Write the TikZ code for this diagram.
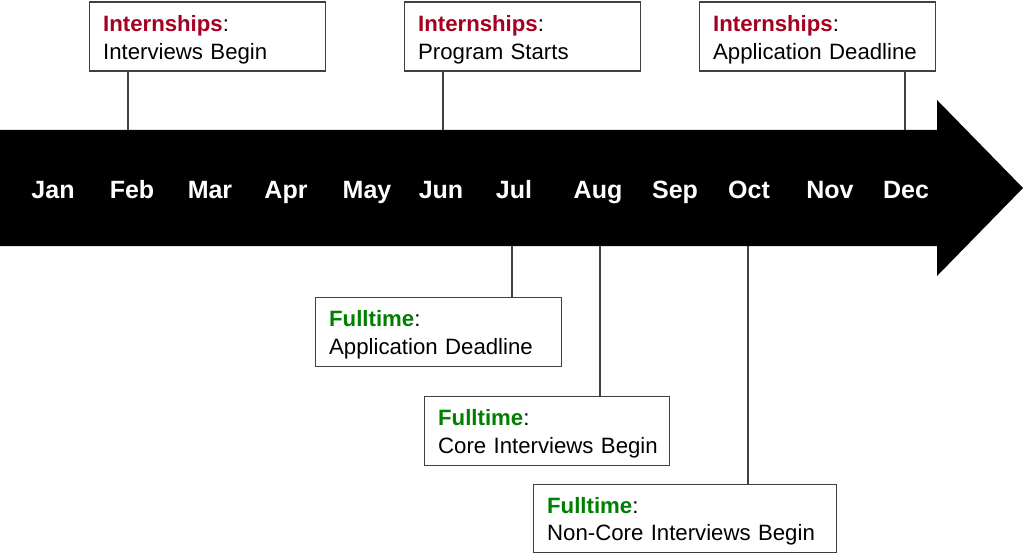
\documentclass[tikz,border=0pt]{standalone}
\usepackage{fontspec}
\setmainfont{Liberation Sans}
\definecolor{intred}{HTML}{A50021}
\definecolor{fullgreen}{HTML}{008000}
\definecolor{edgegray}{HTML}{404040}
\newcommand{\intern}{\textbf{\textcolor{intred}{Internships}}:}
\newcommand{\fullt}{\textbf{\textcolor{fullgreen}{Fulltime}}:}
\begin{document}
\begin{tikzpicture}[x=1pt,y=-1pt]
\tikzstyle{m} = [text=white, font={\fontsize{25}{30}\selectfont\bfseries}, anchor=base, inner sep=0pt]
\tikzstyle{box} = [draw=edgegray, line width=1.3pt, fill=white, anchor=north west, align=left, inner xsep=14pt, inner ysep=0pt, font={\fontsize{22.2}{27.5}\selectfont}]
\tikzstyle{e} = [draw=edgegray, line width=1.2pt]

\useasboundingbox (0,0) rectangle (1024,553);

% timeline arrow
\fill[black] (0,130) -- (937,130) -- (937,100) -- (1023,188) -- (937,276)
  -- (937,246) -- (0,246) -- cycle;

\node[m] (jan) at (53,199) {Jan};
\node[m] (feb) at (132,199) {Feb};
\node[m] (mar) at (210,199) {Mar};
\node[m] (apr) at (286,199) {Apr};
\node[m] (may) at (367,199) {May};
\node[m] (jun) at (441,199) {Jun};
\node[m] (jul) at (514,199) {Jul};
\node[m] (aug) at (598,199) {Aug};
\node[m] (sep) at (675,199) {Sep};
\node[m] (oct) at (749,199) {Oct};
\node[m] (nov) at (830,199) {Nov};
\node[m] (dec) at (906,199) {Dec};

% points on the arrow edge
\coordinate (tfeb) at (128,130);
\coordinate (tjun) at (443,130);
\coordinate (tdec) at (905,130);
\coordinate (bjul) at (512,246);
\coordinate (baug) at (600,246);
\coordinate (boct) at (748,246);

\node[box, text width=208pt, minimum height=69pt] (ib) at (88.5,1.5)
  {\rule{0pt}{22pt}\intern\\\mbox{Interviews Begin}};
\node[box, text width=208pt, minimum height=69pt] (ps) at (403.5,1.5)
  {\rule{0pt}{22pt}\intern\\\mbox{Program Starts}};
\node[box, text width=208pt, minimum height=69pt] (ad) at (698.5,1.5)
  {\rule{0pt}{22pt}\intern\\\mbox{Application Deadline}};
\node[box, text width=218pt, minimum height=69pt] (fad) at (314.5,296.5)
  {\rule{0pt}{22pt}\fullt\\\mbox{Application Deadline}};
\node[box, text width=217pt, minimum height=69pt] (fci) at (423.5,395.5)
  {\rule{0pt}{22pt}\fullt\\\mbox{Core Interviews Begin}};
\node[box, text width=275pt, minimum height=68pt] (fnc) at (532.5,483.5)
  {\rule{0pt}{22pt}\fullt\\\mbox{Non-Core Interviews Begin}};

\draw[e] (ib.south -| tfeb) -- (tfeb);
\draw[e] (ps.south -| tjun) -- (tjun);
\draw[e] (ad.south -| tdec) -- (tdec);
\draw[e] (fad.north -| bjul) -- (bjul);
\draw[e] (fci.north -| baug) -- (baug);
\draw[e] (fnc.north -| boct) -- (boct);
\end{tikzpicture}
\end{document}
